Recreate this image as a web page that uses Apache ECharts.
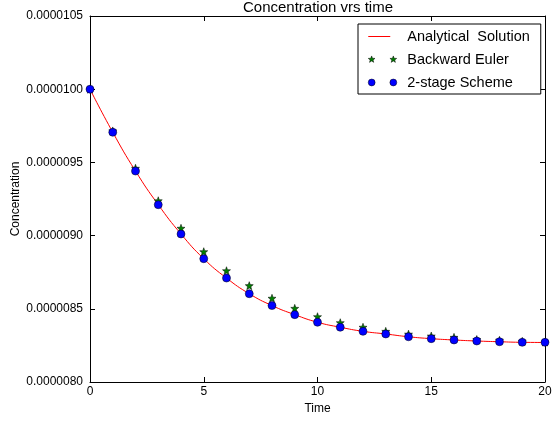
<!DOCTYPE html>
<html>
<head>
<meta charset="utf-8" />
<title>Concentration vrs time</title>
<script src="https://cdn.jsdelivr.net/npm/echarts@6/dist/echarts.min.js"></script>
<style>
  html, body { margin: 0; padding: 0; background: #fff; }
  #main { width: 556px; height: 424px; }
</style>
</head>
<body>
<div id="main"></div>
<script>
// time steps
var times = [0, 1, 2, 3, 4, 5, 6, 7, 8, 9, 10, 11, 12, 13, 14, 15, 16, 17, 18, 19, 20];
// analytical solution (read at integer times)
var analytical = [10.0e-6, 9.706e-6, 9.441e-6, 9.211e-6, 9.011e-6, 8.842e-6, 8.710e-6, 8.603e-6, 8.522e-6, 8.460e-6, 8.408e-6,
  8.374e-6, 8.346e-6, 8.328e-6, 8.309e-6, 8.296e-6, 8.287e-6, 8.280e-6, 8.275e-6, 8.271e-6, 8.270e-6];
// backward euler
var backwardEuler = [10.0e-6, 9.715e-6, 9.460e-6, 9.238e-6, 9.050e-6, 8.890e-6, 8.760e-6, 8.658e-6, 8.572e-6, 8.503e-6, 8.446e-6,
  8.405e-6, 8.374e-6, 8.346e-6, 8.327e-6, 8.314e-6, 8.305e-6, 8.290e-6, 8.285e-6, 8.278e-6, 8.273e-6];
// 2-stage scheme
var twoStage = [10.0e-6, 9.706e-6, 9.441e-6, 9.211e-6, 9.011e-6, 8.842e-6, 8.710e-6, 8.603e-6, 8.522e-6, 8.460e-6, 8.408e-6,
  8.374e-6, 8.346e-6, 8.328e-6, 8.309e-6, 8.296e-6, 8.287e-6, 8.280e-6, 8.275e-6, 8.271e-6, 8.271e-6];

var seriesNames = ['Analytical  Solution', 'Backward Euler', '2-stage Scheme'];

function pairs(ys) {
  return times.map(function (t, i) { return [t, ys[i]]; });
}

// star outline, centred on cx, cy
function starPath(cx, cy, ro, ri) {
  var d = '';
  for (var k = 0; k < 10; k++) {
    var a = (-90 + k * 36) * Math.PI / 180;
    var r = k % 2 ? ri : ro;
    d += (k ? 'L' : 'M') + (cx + r * Math.cos(a)).toFixed(3) + ',' + (cy + r * Math.sin(a)).toFixed(3);
  }
  return d + 'Z';
}
function circlePath(cx, cy, r) {
  return 'M' + (cx - r) + ',' + cy + 'a' + r + ',' + r + ' 0 1,0 ' + (2 * r) + ',0' +
    'a' + r + ',' + r + ' 0 1,0 ' + (-2 * r) + ',0Z';
}
// tiny corner dots keep the legend icon from being stretched
var box = 'M0,0h0.01v0.01h-0.01Z M30,14h0.01v0.01h-0.01Z ';
var lineIcon = 'path://' + box + 'M0,6.5h22v1h-22Z';
var starIcon = 'path://' + box + starPath(3, 7, 3.6, 1.5) + ' ' + starPath(25, 7, 3.6, 1.5);
var dotIcon = 'path://' + box + circlePath(3, 7, 3.5) + ' ' + circlePath(25, 7, 3.5);

var chart = echarts.init(document.getElementById('main'), null, { renderer: 'canvas' });
var font = 'Liberation Sans';
var tickStyle = { show: true, inside: true, length: 5, lineStyle: { color: '#000', width: 1 } };
var lineStyle = { show: true, onZero: false, lineStyle: { color: '#000', width: 1 } };

var option = {
  backgroundColor: '#fff',
  animation: false,
  title: {
    text: 'Concentration vrs time',
    left: 318,
    textAlign: 'center',
    top: 0,
    padding: 0,
    textStyle: { fontFamily: font, fontSize: 15, fontWeight: 'normal', color: '#000' }
  },
  grid: { left: 90, right: 11, top: 16, bottom: 42, containLabel: false, outerBoundsMode: 'none' },
  legend: {
    orient: 'vertical',
    left: 358,
    top: 24,
    padding: [5, 11, 4, 10],
    itemWidth: 30,
    itemHeight: 14,
    itemGap: 8,
    borderColor: '#000',
    borderWidth: 1,
    borderRadius: 0,
    backgroundColor: '#fff',
    textStyle: { fontFamily: font, fontSize: 14.5, color: '#000', padding: [0, 0, 0, 4] },
    data: [
      { name: seriesNames[0], icon: lineIcon },
      { name: seriesNames[1], icon: starIcon, itemStyle: { borderWidth: 0.5, borderColor: '#000' } },
      { name: seriesNames[2], icon: dotIcon, itemStyle: { borderWidth: 0.5, borderColor: '#000' } }
    ]
  },
  xAxis: [{
    type: 'value',
    min: 0, max: 20, interval: 5,
    name: 'Time',
    nameLocation: 'middle',
    nameGap: 21,
    nameMoveOverlap: false,
    nameTextStyle: { fontFamily: font, fontSize: 12, color: '#000' },
    axisLine: lineStyle,
    axisTick: tickStyle,
    axisLabel: { fontFamily: font, fontSize: 12, color: '#000', margin: 4 },
    splitLine: { show: false }
  }, {
    type: 'value',
    position: 'top',
    min: 0, max: 20, interval: 5,
    axisLine: lineStyle,
    axisTick: tickStyle,
    axisLabel: { show: false },
    splitLine: { show: false }
  }],
  yAxis: [{
    type: 'value',
    min: 8.0e-6, max: 10.5e-6, interval: 0.5e-6,
    name: 'Concentration',
    nameLocation: 'middle',
    nameGap: 68,
    nameMoveOverlap: false,
    nameTextStyle: { fontFamily: font, fontSize: 12, color: '#000' },
    axisLine: lineStyle,
    axisTick: tickStyle,
    axisLabel: {
      fontFamily: font, fontSize: 12, color: '#000', margin: 7,
      formatter: function (v) { return v.toFixed(7); }
    },
    splitLine: { show: false }
  }, {
    type: 'value',
    position: 'right',
    min: 8.0e-6, max: 10.5e-6, interval: 0.5e-6,
    axisLine: lineStyle,
    axisTick: tickStyle,
    axisLabel: { show: false },
    splitLine: { show: false }
  }],
  series: [{
    name: seriesNames[0],
    type: 'line',
    smooth: true,
    showSymbol: false,
    symbol: 'none',
    lineStyle: { color: '#ff0000', width: 1 },
    itemStyle: { color: '#ff0000' },
    data: pairs(analytical),
    z: 2
  }, {
    name: seriesNames[1],
    type: 'scatter',
    symbol: 'path://' + starPath(0, 0, 3.6, 1.5),
    symbolSize: 8,
    itemStyle: { color: '#008000', borderColor: '#000', borderWidth: 0.5, opacity: 1 },
    data: pairs(backwardEuler),
    z: 3
  }, {
    name: seriesNames[2],
    type: 'scatter',
    symbol: 'circle',
    symbolSize: 8,
    itemStyle: { color: '#0000ff', borderColor: '#000', borderWidth: 0.5, opacity: 1 },
    data: pairs(twoStage),
    z: 4
  }]
};
chart.setOption(option);
</script>
</body>
</html>
